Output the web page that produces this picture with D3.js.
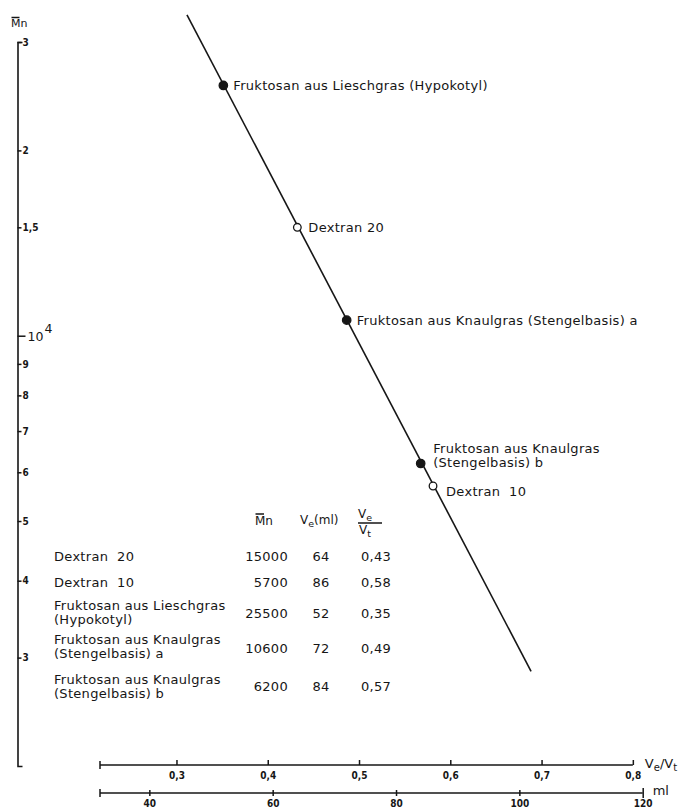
<!DOCTYPE html>
<html>
<head>
<meta charset="utf-8">
<style>
  body { margin: 0; background: #fff; }
  svg text { font-family: "DejaVu Sans", sans-serif; fill: #161616; }
  .label { font-size: 13px; letter-spacing: 0.3px; }
  .tick text { font-family: "DejaVu Sans Condensed", "DejaVu Sans", sans-serif; font-weight: bold; font-size: 10px; fill: #161616; }
  .tick line, .axis-line { stroke: #161616; stroke-width: 1.5; }
</style>
<script src="https://cdnjs.cloudflare.com/ajax/libs/d3/7.8.5/d3.min.js"></script>
</head>
<body>
<div id="chart"></div>
<script>
// samples along the calibration line
const sampleLabels = [
  ["Fruktosan aus Lieschgras (Hypokotyl)"],
  ["Dextran 20"],
  ["Fruktosan aus Knaulgras (Stengelbasis) a"],
  ["Fruktosan aus Knaulgras", "(Stengelbasis) b"],
  ["Dextran  10"]
];
const sampleVe = [52, 64, 72, 84, 86];            // elution volume, ml
const sampleMn = [25500, 15000, 10600, 6200, 5700];
const sampleFilled = [true, false, true, true, false];

// end points of the drawn calibration line
const fitVe = [46.1, 101.9];
const fitMn = [33200, 2850];

// total volume of the column, ml
const Vt = 148;

// table
const tableNames = [
  ["Dextran  20"],
  ["Dextran  10"],
  ["Fruktosan aus Lieschgras", "(Hypokotyl)"],
  ["Fruktosan aus Knaulgras", "(Stengelbasis) a"],
  ["Fruktosan aus Knaulgras", "(Stengelbasis) b"]
];
const tableMn = ["15000", "5700", "25500", "10600", "6200"];
const tableVe = ["64", "86", "52", "72", "84"];
const tableRatio = ["0,43", "0,58", "0,35", "0,49", "0,57"];

// ticks
const yTicks = [3000, 4000, 5000, 6000, 7000, 8000, 9000, 10000, 15000, 20000, 30000];
const yTickLabels = ["3", "4", "5", "6", "7", "8", "9", "10", "1,5", "2", "3"];
const ratioTicks = [0.3, 0.4, 0.5, 0.6, 0.7, 0.8];
const mlTicks = [40, 60, 80, 100, 120];

const width = 680, height = 808;

const svg = d3.select("#chart").append("svg")
  .attr("width", width)
  .attr("height", height);

svg.append("rect").attr("width", width).attr("height", height).attr("fill", "#fff");

// scales
const x = d3.scaleLinear().domain([32, 120]).range([100, 642.7]);
const xRatio = d3.scaleLinear().domain([32 / Vt, 120 / Vt]).range([100, 642.7]);
const y = d3.scaleLog().domain([2000, 30000]).range([766, 42]);

// ---- y axis ----
const yAxis = d3.axisRight(y)
  .tickValues(yTicks)
  .tickSize(4)
  .tickSizeOuter(5)
  .tickPadding(1)
  .tickFormat((d, i) => yTickLabels[i]);

const gy = svg.append("g")
  .attr("transform", "translate(17.5,0)")
  .call(yAxis);
gy.select(".domain").attr("stroke", "#161616").attr("stroke-width", 1.6);

// 10^4 gets a longer tick and a bigger label
gy.selectAll(".tick").filter(d => d === 10000).each(function () {
  const t = d3.select(this);
  t.select("line").attr("x2", 8);
  t.select("text").text(null)
    .attr("x", 10).attr("dy", "0.35em")
    .style("font-family", "DejaVu Sans").style("font-weight", "normal").style("font-size", "12.5px")
    .call(s => {
      s.append("tspan").text("10");
      s.append("tspan").attr("dy", "-0.6em").attr("dx", "1").text("4");
    });
});

// axis title  M̄n
const yTitle = svg.append("text").attr("x", 11).attr("y", 27).style("font-size", "11px");
yTitle.append("tspan").text("M");
yTitle.append("tspan").text("n");
svg.append("line").attr("class", "axis-line")
  .attr("x1", 11.5).attr("x2", 19.5).attr("y1", 17.5).attr("y2", 17.5)
  .attr("stroke-width", 1.2);

// ---- Ve/Vt axis ----
const ratioY = 765;
const ratioAxis = d3.axisBottom(xRatio)
  .tickValues(ratioTicks)
  .tickSize(-5)
  .tickSizeOuter(0)
  .tickPadding(7.2)
  .tickFormat(d => d3.format(".1f")(d).replace(".", ","));

const gr = svg.append("g")
  .attr("transform", `translate(0,${ratioY})`)
  .call(ratioAxis);
gr.select(".domain").remove();
gr.append("line").attr("class", "axis-line")
  .attr("x1", xRatio(32 / Vt)).attr("x2", xRatio(0.8));
gr.append("line").attr("class", "axis-line")
  .attr("x1", xRatio(32 / Vt)).attr("x2", xRatio(32 / Vt)).attr("y1", -4).attr("y2", 4);

const rTitle = svg.append("text")
  .attr("x", xRatio(0.8) + 12).attr("y", ratioY + 3)
  .style("font-size", "13px");
rTitle.append("tspan").text("V");
rTitle.append("tspan").attr("dy", 3).style("font-size", "10px").text("e");
rTitle.append("tspan").attr("dy", -3).text("/V");
rTitle.append("tspan").attr("dy", 3).style("font-size", "10px").text("t");

// ---- ml axis ----
const mlY = 793;
const mlAxis = d3.axisBottom(x)
  .tickValues(mlTicks)
  .tickSize(3)
  .tickSizeOuter(0)
  .tickPadding(4.2);

const gm = svg.append("g")
  .attr("transform", `translate(0,${mlY})`)
  .call(mlAxis);
gm.select(".domain").remove();
gm.selectAll(".tick line").attr("y1", -3);
gm.selectAll(".tick").filter(d => d === 120).select("line").attr("y1", -5).attr("y2", 5);
gm.append("line").attr("class", "axis-line")
  .attr("x1", x(32)).attr("x2", x(120));
gm.append("line").attr("class", "axis-line")
  .attr("x1", x(32)).attr("x2", x(32)).attr("y1", -4).attr("y2", 4);

svg.append("text")
  .attr("x", x(120) + 10).attr("y", mlY + 2)
  .style("font-size", "13px")
  .text("ml");

// ---- calibration line ----
svg.append("line")
  .attr("x1", x(fitVe[0])).attr("y1", y(fitMn[0]))
  .attr("x2", x(fitVe[1])).attr("y2", y(fitMn[1]))
  .attr("stroke", "#161616")
  .attr("stroke-width", 1.6);

// ---- points ----
const samples = sampleVe.map((v, i) => ({ ve: v, mn: sampleMn[i], filled: sampleFilled[i], lines: sampleLabels[i] }));

svg.selectAll(".pt")
  .data(samples)
  .join("circle")
  .attr("class", "pt")
  .attr("cx", d => x(d.ve))
  .attr("cy", d => y(d.mn))
  .attr("r", d => d.filled ? 4.2 : 3.8)
  .attr("fill", d => d.filled ? "#161616" : "#fff")
  .attr("stroke", "#161616")
  .attr("stroke-width", 1.3);

// label placement (layout only): dx, dy of first baseline
const labelNudge = [[10, 4.5], [11, 5], [10, 4.5], [12.5, -11], [13, 10.5]];

svg.selectAll(".pt-label")
  .data(samples)
  .join("text")
  .attr("class", "label pt-label")
  .attr("x", (d, i) => x(d.ve) + labelNudge[i][0])
  .attr("y", (d, i) => y(d.mn) + labelNudge[i][1])
  .style("white-space", "pre")
  .each(function (d, i) {
    const t = d3.select(this);
    d.lines.forEach((ln, k) => {
      t.append("tspan")
        .attr("x", x(d.ve) + labelNudge[i][0])
        .attr("dy", k === 0 ? 0 : 14)
        .text(ln);
    });
  });

// ---- table ----
const colName = 54, colMn = 288, colVe = 321, colRatio = 376;
const rowLine1 = [561, 587, 610, 644, 684];
const rowValue = [561, 587, 618, 653, 691];

const head = svg.append("g").attr("class", "table-head");
const hMn = head.append("text").attr("x", 255).attr("y", 525).style("font-size", "12px");
hMn.append("tspan").text("M");
hMn.append("tspan").text("n");
head.append("line").attr("class", "axis-line")
  .attr("x1", 255.5).attr("x2", 264).attr("y1", 514).attr("y2", 514).attr("stroke-width", 1.2);

const hVe = head.append("text").attr("x", 300).attr("y", 524).style("font-size", "12px");
hVe.append("tspan").text("V");
hVe.append("tspan").attr("dy", 3).style("font-size", "9.5px").text("e");
hVe.append("tspan").attr("dy", -3).text("(ml)");

const hNum = head.append("text").attr("x", 358).attr("y", 518).style("font-size", "12px");
hNum.append("tspan").text("V");
hNum.append("tspan").attr("dy", 3).style("font-size", "9.5px").text("e");
head.append("line").attr("class", "axis-line")
  .attr("x1", 358).attr("x2", 382).attr("y1", 523).attr("y2", 523).attr("stroke-width", 1.2);
const hDen = head.append("text").attr("x", 359).attr("y", 534).style("font-size", "12px");
hDen.append("tspan").text("V");
hDen.append("tspan").attr("dy", 3).style("font-size", "9.5px").text("t");

const rows = svg.selectAll(".row")
  .data(tableNames)
  .join("g")
  .attr("class", "row");

rows.append("text")
  .attr("class", "label")
  .attr("x", colName)
  .attr("y", (d, i) => rowLine1[i])
  .style("white-space", "pre")
  .each(function (d) {
    const t = d3.select(this);
    d.forEach((ln, k) => {
      t.append("tspan").attr("x", colName).attr("dy", k === 0 ? 0 : 14).text(ln);
    });
  });

rows.append("text").attr("class", "label")
  .attr("x", colMn).attr("y", (d, i) => rowValue[i])
  .attr("text-anchor", "end")
  .text((d, i) => tableMn[i]);

rows.append("text").attr("class", "label")
  .attr("x", colVe).attr("y", (d, i) => rowValue[i])
  .attr("text-anchor", "middle")
  .text((d, i) => tableVe[i]);

rows.append("text").attr("class", "label")
  .attr("x", colRatio).attr("y", (d, i) => rowValue[i])
  .attr("text-anchor", "middle")
  .text((d, i) => tableRatio[i]);
</script>
</body>
</html>
